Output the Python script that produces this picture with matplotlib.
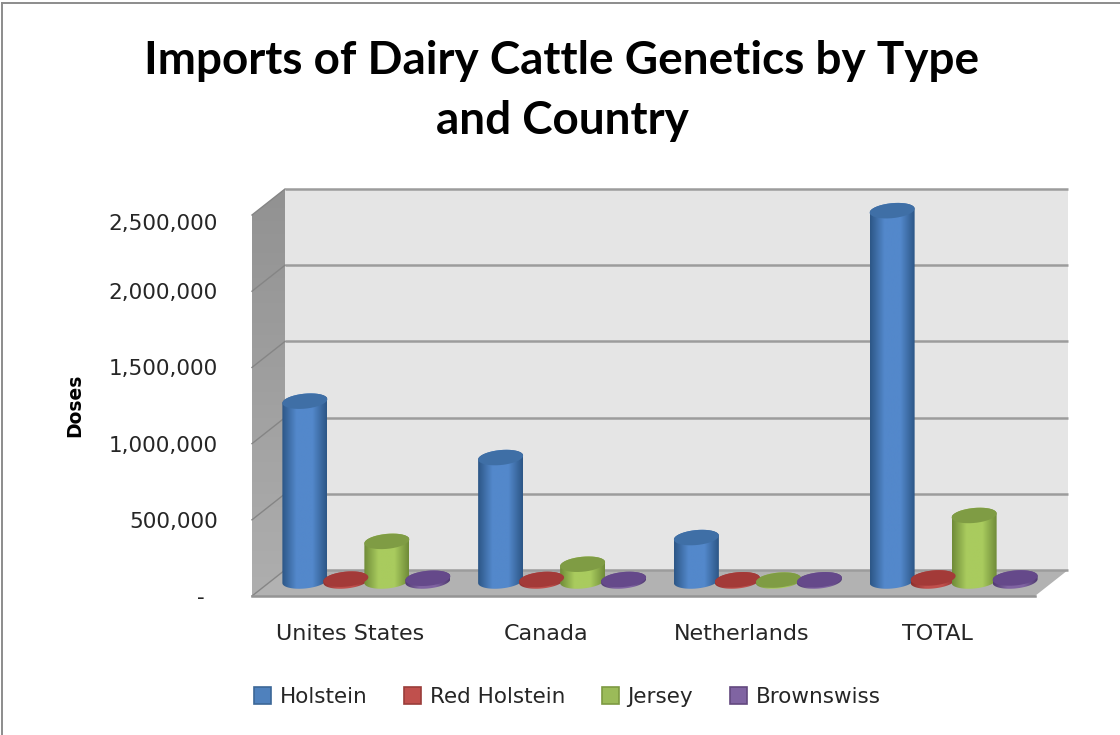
import numpy as np
import matplotlib
matplotlib.use("Agg")
import matplotlib.pyplot as plt
from matplotlib.colors import LinearSegmentedColormap
from matplotlib.patches import Patch, PathPatch, Polygon, Rectangle
from matplotlib.path import Path
from matplotlib.transforms import ScaledTranslation

countries = ["Unites States", "Canada", "Netherlands", "TOTAL"]
breeds = ["Holstein", "Red Holstein", "Jersey", "Brownswiss"]

holstein = [1180000, 810000, 285000, 2430000]
red_holstein = [12000, 10000, 8000, 20000]
jersey = [260000, 110000, 6000, 430000]
brownswiss = [18000, 10000, 8000, 20000]

y_ticks = [0, 500000, 1000000, 1500000, 2000000, 2500000]
y_tick_labels = ["-  ", "500,000", "1,000,000", "1,500,000", "2,000,000", "2,500,000"]

# edge shade, centre shade, cap shade, swatch fill, swatch edge
colors = {
    "Holstein": ("#2c5686", "#5388cb", "#3f6fa6", "#4f81bd", "#3c6797"),
    "Red Holstein": ("#8c2f2d", "#c0504d", "#a33a38", "#c0504d", "#9a3d3a"),
    "Jersey": ("#6f8b38", "#a9cb5e", "#7f9c44", "#9bbb59", "#7d9a42"),
    "Brownswiss": ("#4f3a70", "#8064a2", "#65498a", "#8064a2", "#63497f"),
}

# one category is 195.75 px wide, one 500,000 step is 76.2 px tall
PX_X = 1 / 195.75
PX_Y = 500000 / 76.2
DEPTH_X = 33 * PX_X
DEPTH_Y = 26 * PX_Y
BAR_STEP = 41 * PX_X
BAR_RX = 22.5 * PX_X
BAR_RY = 7.5 * PX_Y
BAR_TILT = 2 * PX_Y
BASE_Y = 15 * PX_Y

WALL_LINE = "#9c9c9c"


def ellipse_points(cx, cy, start, stop):
    t = np.linspace(start, stop, 40)
    return np.column_stack([
        cx + BAR_RX * np.cos(t),
        cy + BAR_RY * np.sin(t) + BAR_TILT * np.cos(t),
    ])


def draw_cylinder(ax, cx, value, breed):
    edge, centre, cap, _, _ = colors[breed]
    bottom = BASE_Y
    top = BASE_Y + value

    # body outline: lower half of base ellipse, upper half of top ellipse
    outline = np.vstack([
        ellipse_points(cx, bottom, np.pi, 2 * np.pi),
        ellipse_points(cx, top, 0, np.pi),
    ])
    clip = PathPatch(Path(np.vstack([outline, outline[:1]])), transform=ax.transData,
                     facecolor="none", edgecolor="none")
    ax.add_patch(clip)

    cmap = LinearSegmentedColormap.from_list(
        breed, [(0, edge), (0.32, centre), (0.68, centre), (1, edge)], N=128)
    gradient = np.linspace(0, 1, 128).reshape(1, -1)
    img = ax.imshow(gradient, cmap=cmap, aspect="auto", zorder=4, interpolation="bilinear",
                    extent=(cx - BAR_RX, cx + BAR_RX,
                            bottom - 2 * BAR_RY - BAR_TILT, top + 2 * BAR_RY + BAR_TILT))
    img.set_clip_path(clip)
    img.set_clip_box(ax.figure.bbox)

    ax.add_patch(Polygon(ellipse_points(cx, top, 0, 2 * np.pi), closed=True,
                         facecolor=cap, edgecolor="none", zorder=4.5, clip_on=False))


def draw_walls(ax):
    x_max = len(countries)
    y_max = y_ticks[-1]

    back = Rectangle((DEPTH_X, DEPTH_Y), x_max, y_max, facecolor="#e5e5e5",
                     edgecolor="none", zorder=1, clip_on=False)
    floor = Polygon([(0, 0), (x_max, 0), (x_max + DEPTH_X, DEPTH_Y), (DEPTH_X, DEPTH_Y)],
                    facecolor="#b2b2b2", edgecolor="none", zorder=1, clip_on=False)
    ax.add_patch(back)
    ax.add_patch(floor)

    # side wall gets lighter toward the floor
    left = Polygon([(0, 0), (DEPTH_X, DEPTH_Y), (DEPTH_X, DEPTH_Y + y_max), (0, y_max)],
                   facecolor="none", edgecolor="none", zorder=1, clip_on=False)
    ax.add_patch(left)
    shade = LinearSegmentedColormap.from_list("wall", ["#aeaeae", "#929292"])
    img = ax.imshow(np.linspace(1, 0, 64).reshape(-1, 1), cmap=shade, aspect="auto", zorder=1,
                    extent=(0, DEPTH_X, 0, DEPTH_Y + y_max))
    img.set_clip_path(left)
    img.set_clip_box(ax.figure.bbox)

    for y in y_ticks:
        ax.plot([DEPTH_X, x_max + DEPTH_X], [y + DEPTH_Y, y + DEPTH_Y], color=WALL_LINE,
                lw=1.8, zorder=2, clip_on=False, solid_capstyle="butt")
        ax.plot([0, DEPTH_X], [y, y + DEPTH_Y], color="#858585", lw=1.0, zorder=2, clip_on=False)

    ax.plot([0, x_max], [0, 0], color="#949494", lw=1.8, zorder=2, clip_on=False)


def main():
    plt.rcParams["font.family"] = ["DejaVu Sans"]

    fig = plt.figure(figsize=(11.2, 7.35), dpi=100)
    fig.patch.set_facecolor("white")

    # thin chart frame
    fig.add_artist(plt.Line2D([2 / 1120, 2 / 1120], [0, 732 / 735], color="#8c8c8c", lw=1.4))
    fig.add_artist(plt.Line2D([2 / 1120, 1120 / 1120], [732 / 735, 732 / 735], color="#8c8c8c", lw=1.4))

    ax = fig.add_axes([252 / 1120, (735 - 596) / 735, 783 / 1120, 381 / 735])
    ax.patch.set_alpha(0)
    for spine in ax.spines.values():
        spine.set_visible(False)

    draw_walls(ax)

    series = [holstein, red_holstein, jersey, brownswiss]
    for i in range(len(countries)):
        for j, breed in enumerate(breeds):
            cx = i + 0.5 + DEPTH_X / 2 + (j - 1.5) * BAR_STEP
            draw_cylinder(ax, cx, series[j][i], breed)

    ax.set_xlim(0, len(countries))
    ax.set_ylim(0, y_ticks[-1])

    ax.set_xticks(np.arange(len(countries)) + 0.5)
    ax.set_xticklabels(countries, fontsize=16, color="#262626")
    ax.set_yticks(y_ticks)
    ax.set_yticklabels(y_tick_labels, fontsize=15.5, color="#262626")
    ax.tick_params(axis="x", length=0, pad=20)
    ax.tick_params(axis="y", length=0, pad=24.5)

    # top label sits a little under its gridline
    top_label = ax.get_yticklabels()[-1]
    top_label.set_transform(top_label.get_transform() + ScaledTranslation(0, -5 / 72, fig.dpi_scale_trans))

    fig.text(75 / 1120, 1 - 405 / 735, "Doses", rotation=90, ha="center", va="center",
             fontsize=13.5, fontweight="bold", color="black")

    fig.text(562 / 1120, 1 - 91 / 735, "Imports of Dairy Cattle Genetics by Type\nand Country",
             ha="center", va="center", fontsize=33, fontweight="bold", color="black",
             family=["Lato", "DejaVu Sans"], linespacing=1.55)

    handles = [Patch(facecolor=colors[b][3], edgecolor=colors[b][4], lw=1.2, label=b) for b in breeds]
    fig.legend(handles=handles, ncol=4, frameon=False, fontsize=15.5, labelcolor="#262626",
               loc="center", bbox_to_anchor=(567 / 1120, 1 - 697 / 735),
               handlelength=0.8, handleheight=0.8, handletextpad=0.4, columnspacing=1.7)

    fig.savefig("out.png", dpi=100)
    plt.close(fig)


if __name__ == "__main__":
    main()
